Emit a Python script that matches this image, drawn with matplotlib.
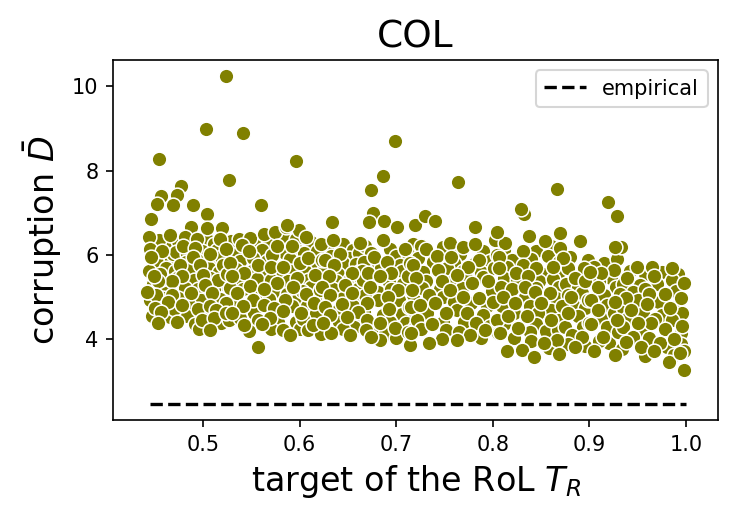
import matplotlib
matplotlib.use("Agg")
import matplotlib.pyplot as plt

# ---- data ----
title = "COL"
xlabel = "target of the RoL $T_R$"
ylabel = "corruption $\\bar{D}$"
legend_label = "empirical"

# empirical reference line
emp_x = [0.445, 1.0]
emp_y = [2.46, 2.46]

# ---- partly hidden points of the dense cloud (estimated), drawn first ----
xh1 = [0.447, 0.461, 0.452, 0.467, 0.444, 0.462, 0.448, 0.463, 0.445, 0.459,
       0.447, 0.466, 0.470, 0.455, 0.469, 0.458]
yh1 = [6.28, 6.24, 5.82, 5.88, 5.62, 5.68, 5.30, 5.22, 4.92, 4.98,
       4.55, 4.52, 4.72, 6.35, 6.02, 5.42]

xh2 = [0.474, 0.486, 0.503, 0.512, 0.529, 0.472, 0.484, 0.499, 0.515, 0.482,
       0.494, 0.508, 0.519, 0.471, 0.486, 0.506, 0.517, 0.529, 0.473, 0.491,
       0.507, 0.520, 0.481, 0.495, 0.512, 0.474, 0.498, 0.518, 0.486, 0.503,
       0.484, 0.473, 0.492, 0.519, 0.527, 0.496]
yh2 = [6.34, 6.30, 6.40, 6.25, 6.33, 6.06, 6.02, 6.08, 6.12, 5.84,
       5.88, 5.86, 5.94, 5.62, 5.66, 5.68, 5.60, 5.66, 5.44, 5.40,
       5.45, 5.30, 5.22, 5.18, 5.20, 4.98, 4.94, 4.96, 4.82, 4.58,
       4.55, 4.42, 4.36, 4.38, 4.45, 4.25]

xh3 = [0.537, 0.553, 0.568, 0.583, 0.596, 0.535, 0.561, 0.585, 0.598, 0.538,
       0.552, 0.566, 0.590, 0.534, 0.551, 0.565, 0.578, 0.591, 0.539, 0.556,
       0.570, 0.588, 0.599, 0.541, 0.557, 0.573, 0.587, 0.598, 0.535, 0.568,
       0.553, 0.592, 0.538, 0.557, 0.578, 0.596, 0.548, 0.570, 0.600]
yh3 = [6.38, 6.30, 6.35, 6.45, 6.38, 6.02, 6.12, 6.05, 6.10, 5.85,
       5.92, 5.86, 5.90, 5.66, 5.62, 5.55, 5.58, 5.62, 5.38, 5.42,
       5.40, 5.38, 5.30, 5.20, 5.04, 5.12, 5.08, 4.98, 4.90, 4.96,
       4.62, 4.78, 4.50, 4.45, 4.40, 4.42, 4.20, 4.25, 4.25]

xh4 = [0.612, 0.628, 0.645, 0.655, 0.605, 0.618, 0.633, 0.651, 0.662, 0.613,
       0.645, 0.658, 0.606, 0.625, 0.640, 0.663, 0.609, 0.638, 0.652, 0.664,
       0.612, 0.635, 0.660, 0.603, 0.616, 0.645, 0.662, 0.608, 0.655, 0.617,
       0.639, 0.663, 0.604, 0.641, 0.656, 0.609, 0.622, 0.645]
yh4 = [6.30, 6.18, 6.25, 6.12, 6.05, 6.08, 5.98, 5.92, 6.05, 5.75,
       5.80, 5.78, 5.62, 5.65, 5.55, 5.62, 5.40, 5.38, 5.42, 5.35,
       5.25, 5.20, 5.18, 5.15, 4.98, 4.98, 5.00, 4.78, 4.78, 4.62,
       4.68, 4.55, 4.48, 4.40, 4.30, 4.22, 4.12, 4.25]

xh5 = [0.668, 0.694, 0.717, 0.674, 0.700, 0.712, 0.667, 0.681, 0.704, 0.665,
       0.684, 0.706, 0.718, 0.666, 0.693, 0.707, 0.681, 0.695, 0.717, 0.668,
       0.703, 0.681, 0.667, 0.686, 0.706, 0.719, 0.677, 0.694, 0.710, 0.688,
       0.700, 0.683, 0.719]
yh5 = [6.22, 6.15, 6.25, 6.05, 5.98, 6.02, 5.82, 5.80, 5.75, 5.62,
       5.68, 5.62, 5.62, 5.40, 5.36, 5.32, 5.12, 5.18, 5.05, 5.05,
       4.92, 4.92, 4.65, 4.58, 4.60, 4.55, 4.28, 4.42, 4.38, 4.12,
       4.02, 3.98, 4.30]

xh6 = [0.726, 0.748, 0.766, 0.790, 0.723, 0.738, 0.760, 0.781, 0.797, 0.728,
       0.753, 0.769, 0.788, 0.731, 0.760, 0.772, 0.790, 0.727, 0.745, 0.768,
       0.799, 0.748, 0.760, 0.777, 0.794, 0.732, 0.763, 0.790, 0.722, 0.748,
       0.770, 0.797, 0.726, 0.752, 0.765, 0.747, 0.788]
yh6 = [6.22, 6.18, 6.02, 6.10, 5.92, 5.82, 5.80, 5.78, 5.85, 5.60,
       5.70, 5.62, 5.60, 5.38, 5.40, 5.45, 5.48, 5.22, 5.20, 5.22,
       5.15, 5.00, 4.88, 4.85, 4.78, 4.62, 4.70, 4.58, 4.45, 4.42,
       4.40, 4.32, 4.25, 4.22, 4.18, 4.00, 4.02]

xh7 = [0.812, 0.845, 0.860, 0.820, 0.840, 0.857, 0.868, 0.815, 0.852, 0.868,
       0.812, 0.825, 0.848, 0.862, 0.808, 0.820, 0.845, 0.869, 0.833, 0.865,
       0.810, 0.838, 0.860, 0.847, 0.822, 0.869, 0.845, 0.812, 0.838, 0.855,
       0.867, 0.822, 0.840, 0.858, 0.830]
yh7 = [6.12, 6.08, 6.22, 5.88, 5.90, 5.98, 5.82, 5.72, 5.55, 5.60,
       5.45, 5.40, 5.38, 5.42, 5.25, 5.18, 5.22, 5.25, 5.00, 4.98,
       4.78, 4.78, 4.70, 4.62, 4.62, 4.45, 4.35, 4.35, 4.18, 4.20,
       4.22, 4.02, 3.95, 3.80, 3.75]

xh8 = [0.880, 0.898, 0.915, 0.928, 0.878, 0.905, 0.922, 0.876, 0.888, 0.910,
       0.927, 0.878, 0.892, 0.915, 0.883, 0.895, 0.918, 0.872, 0.888, 0.912,
       0.925, 0.875, 0.893, 0.918, 0.882, 0.920, 0.878, 0.895, 0.910, 0.930]
yh8 = [5.95, 5.88, 5.80, 5.90, 5.68, 5.72, 5.45, 5.30, 5.22, 5.38,
       5.25, 5.05, 5.10, 5.05, 4.82, 4.75, 4.82, 4.78, 4.55, 4.50,
       4.62, 4.30, 4.28, 4.28, 4.10, 3.90, 3.88, 3.85, 3.95, 4.18]

xh9 = [0.942, 0.958, 0.975, 0.992, 0.935, 0.952, 0.970, 0.985, 0.945, 0.958,
       0.990, 0.932, 0.950, 0.972, 0.992, 0.935, 0.955, 0.975, 0.996, 0.940,
       0.968, 0.985, 0.935, 0.958, 0.978, 0.995, 0.945, 0.962, 0.980, 0.995,
       0.934, 0.958]
yh9 = [5.62, 5.55, 5.60, 5.55, 5.30, 5.28, 5.30, 5.40, 5.12, 5.20,
       5.15, 5.08, 4.92, 4.88, 4.82, 4.75, 4.62, 4.58, 4.62, 4.50,
       4.48, 4.45, 4.30, 4.20, 4.25, 4.15, 4.05, 4.02, 3.82, 3.88,
       3.78, 3.60]

# ---- visible points ----
# upper points / outliers
x_a = [0.524, 0.503, 0.542, 0.455, 0.527, 0.596, 0.560, 0.699, 0.686, 0.674,
       0.764, 0.866, 0.919, 0.929, 0.477, 0.473, 0.457, 0.453, 0.469, 0.490,
       0.504, 0.446, 0.488, 0.504, 0.520, 0.444, 0.466, 0.481, 0.494, 0.518,
       0.549, 0.563, 0.575, 0.586, 0.599, 0.607, 0.622, 0.634, 0.635, 0.663,
       0.676, 0.672, 0.687, 0.686, 0.701, 0.719, 0.540, 0.730, 0.740, 0.832,
       0.829, 0.782, 0.756, 0.769, 0.782, 0.802, 0.813, 0.837, 0.854, 0.870,
       0.890, 0.933, 0.731, 0.804, 0.926]
y_a = [10.25, 8.99, 8.90, 8.28, 7.77, 8.22, 7.19, 8.70, 7.87, 7.53,
       7.73, 7.55, 7.25, 6.91, 7.64, 7.41, 7.40, 7.21, 7.19, 7.18,
       6.97, 6.86, 6.66, 6.63, 6.64, 6.42, 6.46, 6.43, 6.38, 6.37,
       6.41, 6.49, 6.55, 6.66, 6.59, 6.43, 6.25, 6.78, 6.36, 6.29,
       7.00, 6.79, 6.81, 6.36, 6.67, 6.71, 6.23, 6.93, 6.81, 6.97,
       7.09, 6.66, 6.28, 6.18, 6.26, 6.36, 6.29, 6.45, 6.32, 6.53,
       6.34, 6.19, 6.14, 6.55, 6.18]

x_b = [0.445, 0.458, 0.479, 0.492, 0.507, 0.524, 0.446, 0.490, 0.476, 0.497,
       0.521, 0.456, 0.478, 0.500, 0.516, 0.525, 0.468, 0.454, 0.502, 0.443,
       0.451, 0.468, 0.488, 0.509, 0.528, 0.464, 0.478, 0.450, 0.495, 0.507,
       0.524, 0.457, 0.514, 0.499, 0.512, 0.524, 0.454, 0.507, 0.449, 0.442]
y_b = [6.14, 6.08, 6.21, 6.16, 6.02, 6.14, 5.96, 5.96, 5.76, 5.76,
       5.76, 5.55, 5.49, 5.53, 5.41, 5.55, 5.37, 5.37, 5.29, 5.11,
       5.05, 5.05, 5.09, 5.09, 5.21, 4.89, 4.81, 4.74, 4.71, 4.79,
       4.85, 4.65, 4.70, 4.46, 4.50, 4.62, 4.38, 4.22, 5.49, 5.13]

x_c = [0.548, 0.571, 0.577, 0.592, 0.600, 0.609, 0.623, 0.528, 0.557, 0.570,
       0.583, 0.543, 0.597, 0.616, 0.530, 0.577, 0.549, 0.563, 0.593, 0.607,
       0.621, 0.535, 0.552, 0.585, 0.615, 0.542, 0.563, 0.574, 0.601, 0.583,
       0.530, 0.543, 0.569, 0.614, 0.583, 0.590, 0.557, 0.561, 0.587]
y_c = [6.08, 6.00, 6.20, 6.20, 5.80, 5.92, 5.88, 5.80, 5.76, 5.72,
       5.72, 5.57, 5.45, 5.53, 5.49, 5.34, 5.26, 5.19, 5.23, 5.07,
       5.17, 5.09, 4.93, 4.93, 4.85, 4.79, 4.81, 4.74, 4.63, 4.68,
       4.62, 4.34, 4.50, 4.34, 4.22, 4.10, 3.81, 4.36, 6.72]

x_d = [0.709, 0.642, 0.677, 0.626, 0.690, 0.714, 0.636, 0.654, 0.671, 0.695,
       0.631, 0.683, 0.712, 0.623, 0.647, 0.673, 0.702, 0.654, 0.632, 0.692,
       0.670, 0.644, 0.713, 0.626, 0.693, 0.660, 0.649, 0.632, 0.670, 0.683,
       0.699, 0.712, 0.633, 0.652, 0.669, 0.674, 0.714, 0.624]
y_d = [6.14, 6.02, 5.95, 5.88, 5.82, 5.80, 5.76, 5.58, 5.57, 5.58,
       5.49, 5.50, 5.49, 5.23, 5.29, 5.25, 5.17, 5.09, 5.05, 5.00,
       4.85, 4.84, 4.77, 4.77, 4.71, 4.65, 4.52, 4.58, 4.46, 4.38,
       4.26, 4.18, 4.14, 4.10, 4.22, 4.06, 3.86, 4.38]

x_e = [0.742, 0.757, 0.804, 0.786, 0.717, 0.774, 0.801, 0.743, 0.763, 0.721,
       0.747, 0.778, 0.795, 0.716, 0.756, 0.734, 0.786, 0.769, 0.800, 0.715,
       0.740, 0.725, 0.773, 0.752, 0.804, 0.737, 0.783, 0.715, 0.776, 0.805,
       0.734, 0.763, 0.792]
y_e = [5.98, 5.96, 6.00, 5.88, 5.76, 5.72, 5.68, 5.63, 5.53, 5.45,
       5.37, 5.33, 5.37, 5.17, 5.17, 5.05, 4.97, 5.01, 4.89, 4.77,
       4.85, 4.81, 4.63, 4.62, 4.46, 4.36, 4.39, 4.14, 4.10, 4.14,
       3.91, 3.98, 4.22]

x_f = [0.831, 0.870, 0.873, 0.806, 0.831, 0.845, 0.862, 0.894, 0.824, 0.836,
       0.885, 0.895, 0.806, 0.833, 0.859, 0.844, 0.881, 0.898, 0.811, 0.823,
       0.850, 0.878, 0.835, 0.860, 0.900, 0.816, 0.826, 0.807, 0.866, 0.892,
       0.885, 0.843, 0.869, 0.815, 0.853]
y_f = [6.10, 6.16, 5.92, 5.96, 5.76, 5.68, 5.72, 5.68, 5.58, 5.49,
       5.45, 5.37, 5.68, 5.25, 5.09, 5.11, 5.01, 4.93, 5.01, 4.85,
       4.85, 4.62, 4.54, 4.46, 4.38, 4.54, 4.26, 4.14, 3.98, 4.06,
       3.82, 3.59, 3.65, 3.71, 3.91]

x_g = [0.949, 0.965, 0.985, 0.925, 0.912, 0.939, 0.967, 0.998, 0.909, 0.901,
       0.962, 0.978, 0.995, 0.938, 0.926, 0.902, 0.960, 0.943, 0.909, 0.983,
       0.928, 0.964, 0.996, 0.902, 0.950, 0.914, 0.938, 0.973, 0.987, 0.953,
       0.967, 0.988, 0.998, 0.905, 0.926, 0.982, 0.998, 0.994]
y_g = [5.71, 5.72, 5.68, 5.63, 5.57, 5.45, 5.49, 5.34, 5.23, 5.60,
       5.07, 5.07, 4.97, 4.97, 4.89, 4.92, 4.84, 4.70, 4.70, 4.74,
       4.46, 4.38, 4.32, 4.36, 4.38, 4.06, 3.94, 3.91, 4.00, 3.82,
       3.71, 3.63, 3.71, 3.73, 3.63, 3.47, 3.27, 3.67]

xs = (xh1 + xh2 + xh3 + xh4 + xh5 + xh6 + xh7 + xh8 + xh9
      + x_a + x_b + x_c + x_d + x_e + x_f + x_g)
ys = (yh1 + yh2 + yh3 + yh4 + yh5 + yh6 + yh7 + yh8 + yh9
      + y_a + y_b + y_c + y_d + y_e + y_f + y_g)

olive = "#808000"

fig = plt.figure(figsize=(5, 3.5), dpi=150)
ax = fig.add_axes([0.1507, 0.2, 0.8066, 0.6857])

ax.scatter(xs, ys, s=50, c=olive, edgecolors="white", linewidths=0.75, zorder=2)
ax.plot(emp_x, emp_y, color="black", linestyle="--", linewidth=1.6,
        label=legend_label, zorder=3)

ax.set_xlim(0.407, 1.033)
ax.set_ylim(2.085, 10.62)
ax.set_xticks([0.5, 0.6, 0.7, 0.8, 0.9, 1.0])
ax.set_yticks([4, 6, 8, 10])
ax.tick_params(labelsize=10)
ax.set_title(title, fontsize=18)
ax.set_xlabel(xlabel, fontsize=16)
ax.set_ylabel(ylabel, fontsize=16)
ax.legend(loc="upper right", fontsize=10, handlelength=2.0)

fig.savefig("out.png", dpi=150)
